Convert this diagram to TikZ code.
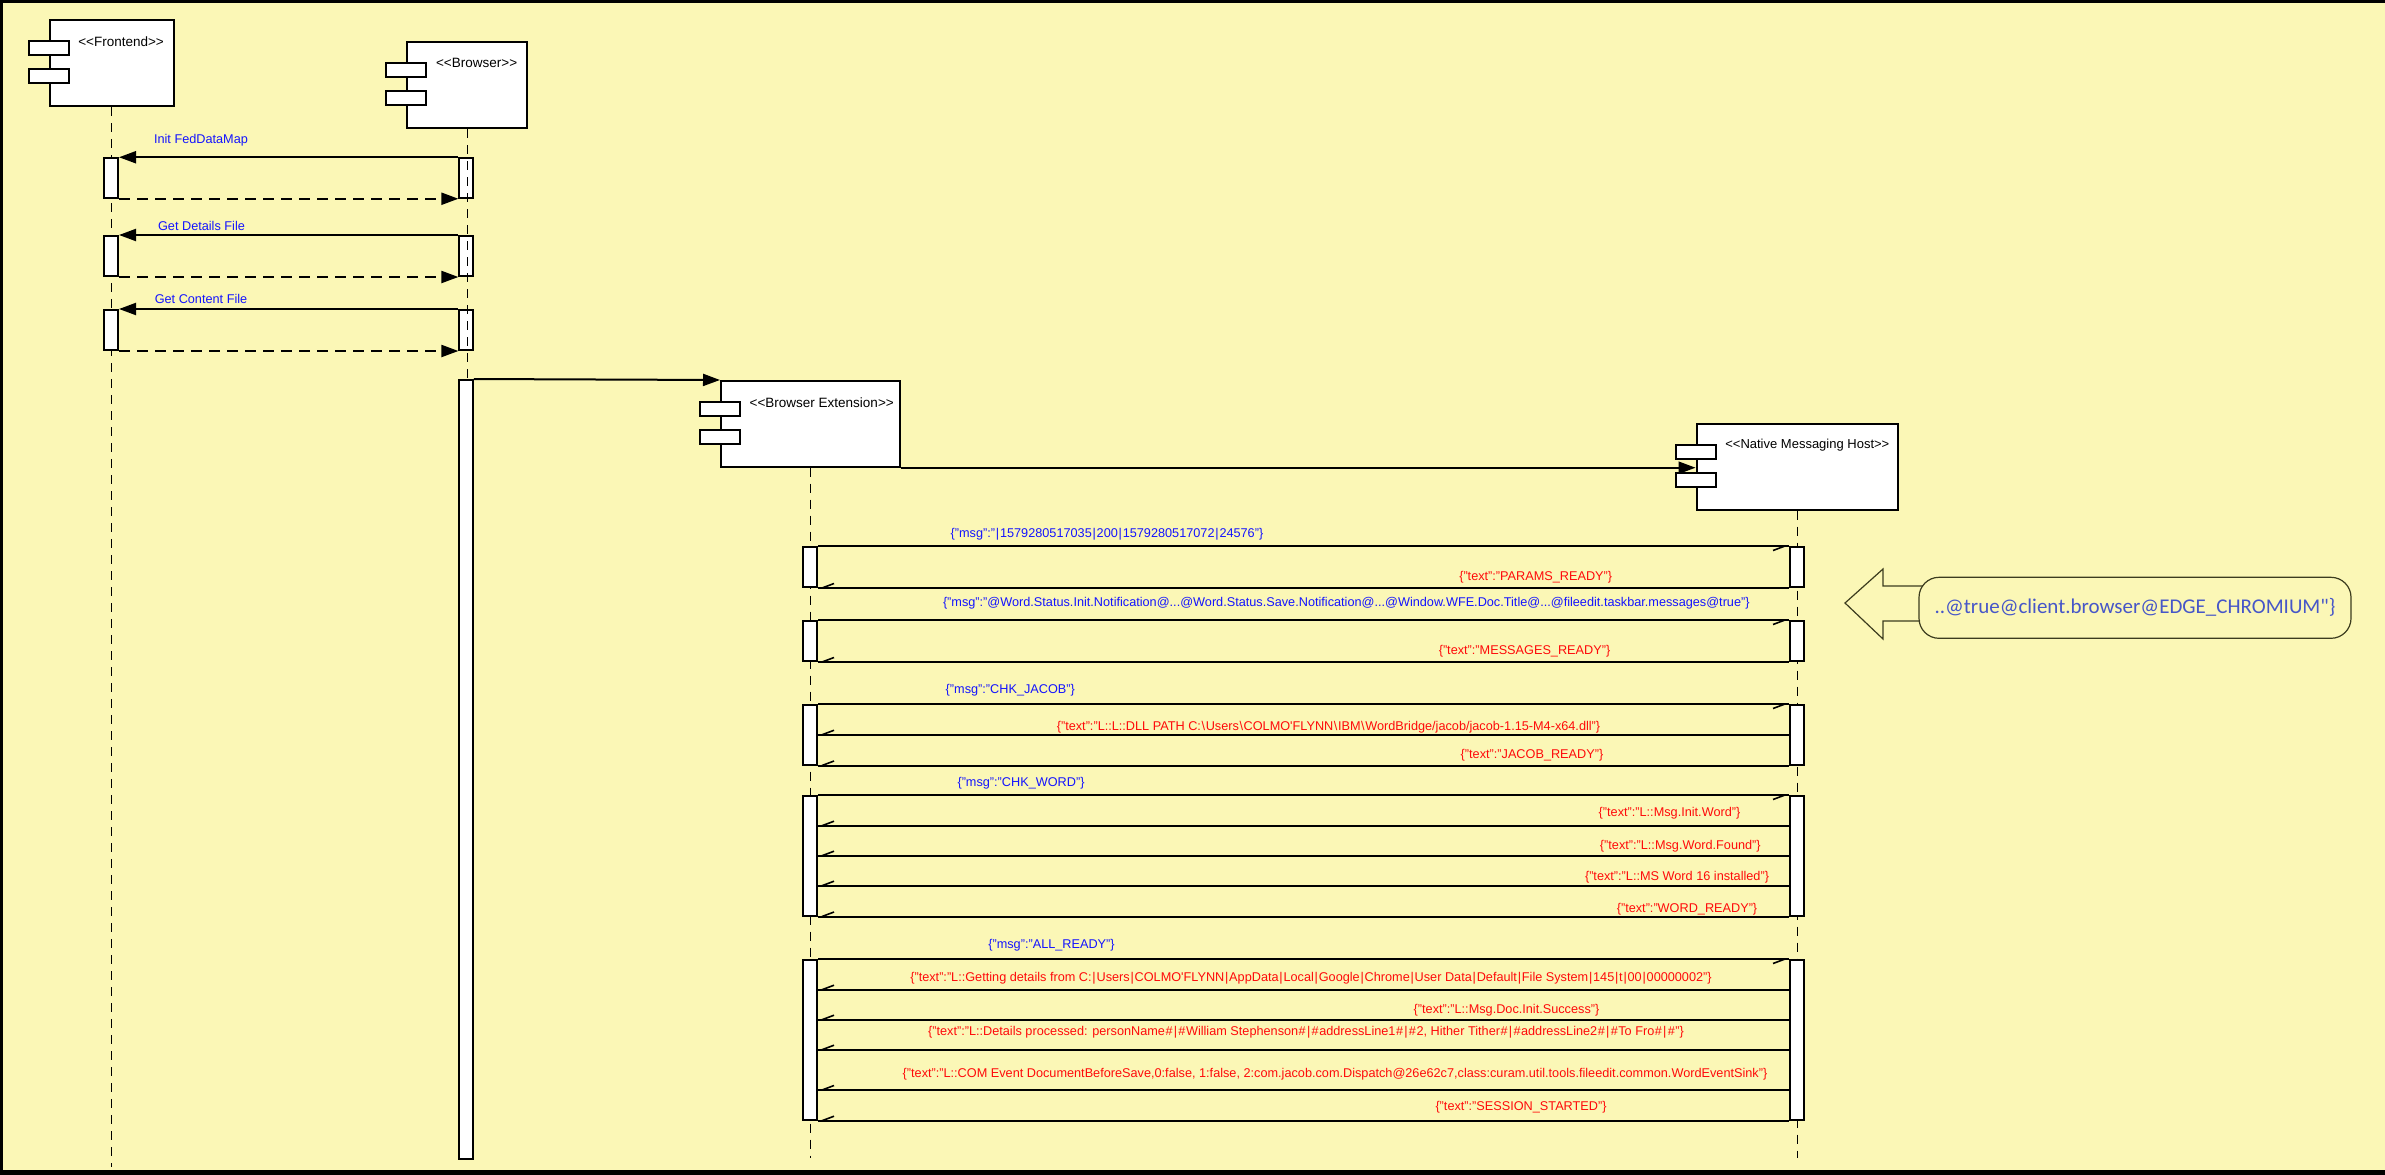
\documentclass[tikz,border=0pt]{standalone}
\usepackage{fontspec}
\setmainfont{Liberation Sans}
\newfontfamily\callfont{Carlito}
\usetikzlibrary{arrows.meta,calc,decorations.markings}

\definecolor{paper}{RGB}{251,247,182}
\definecolor{msgblue}{RGB}{20,20,255}
\definecolor{msgred}{RGB}{255,10,10}
\definecolor{noteblue}{RGB}{70,86,200}
\definecolor{noteline}{RGB}{60,60,30}

\tikzset{
  comp/.style={draw, line width=2pt, fill=white, anchor=north west, inner sep=0pt},
  port/.style={draw, line width=2pt, fill=white, minimum width=40pt, minimum height=14pt, inner sep=0pt},
  lifeline/.style={line width=1pt, dash pattern=on 9pt off 7pt},
  actbar/.style={draw, line width=2pt, fill=white, minimum width=14pt, inner sep=0pt},
  call/.style={line width=2pt, -{Triangle[length=17pt,width=12pt]}},
  reply/.style={call, dash pattern=on 11pt off 7pt},
  wire/.style={line width=2pt, postaction={decorate},
    decoration={markings, mark=at position 1 with {\draw[line width=1.6pt, solid] (-4pt,0pt) -- (-16pt,-4.5pt);}}},
  head/.style={font=\fontsize{13.5}{15}\selectfont, anchor=west, inner sep=0pt},
  lbl/.style={font=\fontsize{12.7}{14}\selectfont, anchor=base, inner sep=0pt},
  bluelbl/.style={lbl, text=msgblue},
  redlbl/.style={lbl, text=msgred},
}

% separators set with a little air around them
\newcommand{\q}{\textquotesingle}
\newcommand{\pp}{\kern0.8pt|\kern0.8pt}
\newcommand{\hh}{\kern0.5pt\#\kern0.5pt}
\newcommand{\bs}{\kern0.6pt\textbackslash\kern0.6pt}

\begin{document}
\begin{tikzpicture}[x=1pt,y=-1pt]
\useasboundingbox (0,0) rectangle (2385,1175);
\fill[paper] (0,0) rectangle (2385,1175);
\draw[line width=3pt] (1.5,1175) -- (1.5,1.5) -- (2385,1.5);
\draw[line width=5pt] (0,1172.5) -- (2385,1172.5);

% ---- component boxes ----
\node[comp, minimum width=124pt, minimum height=86pt] (fe) at (48.6,19) {};
\node[comp, minimum width=120pt, minimum height=86.3pt] (br) at (406.4,40.7) {};
\node[comp, minimum width=179pt, minimum height=85.7pt] (be) at (720,380) {};
\node[comp, minimum width=201.3pt, minimum height=85.7pt] (nmh) at (1695.6,423) {};

\foreach \c in {fe,br,be,nmh}{
  \node[port] (\c p1) at ($(\c.north west)+(0,29)$) {};
  \node[port] (\c p2) at ($(\c.north west)+(0,57)$) {};
}
\node[head] (fet) at ($(fe.north west)+(29.5,22.5)$) {<{}<Frontend>{}>};
\node[head] (brt) at ($(br.north west)+(29.5,22.5)$) {<{}<Browser>{}>};
\node[head] (bet) at ($(be.north west)+(29.5,22.5)$) {<{}<Browser Extension>{}>};
\node[head, font=\fontsize{13}{15}\selectfont] (nmht) at ($(nmh.north west)+(29.5,22.5)$) {<{}<Native Messaging Host>{}>};

% ---- lifelines ----
\coordinate (endF) at (0,1167);
\coordinate (endB) at (0,380);
\coordinate (endX) at (0,1158);
\draw[lifeline] (fe.south) -- (fe.south |- endF);
\draw[lifeline] (be.south) -- (be.south |- endX);
\draw[lifeline] (nmh.south) -- (nmh.south |- endX);

% ---- Frontend / Browser exchanges ----
\node[actbar, minimum height=39.5pt] (fa1) at (111,178) {};
\node[actbar, minimum height=40pt] (fa2) at (111,256) {};
\node[actbar, minimum height=40pt] (fa3) at (111,330) {};
\node[actbar, minimum height=39.5pt] (ba1) at (466.4,178) {};
\node[actbar, minimum height=40pt] (ba2) at (466.4,256) {};
\node[actbar, minimum height=40pt] (ba3) at (466.4,330) {};
\draw[lifeline] (br.south) -- (br.south |- endB);
\node[actbar, minimum height=779pt] (lb) at (465.8,769.5) {};

\draw[call] (ba1.north west) -- (fa1.north east);
\draw[reply] (fa1.south east) -- (ba1.south west);
\draw[call] (ba2.north west) -- (fa2.north east);
\draw[reply] (fa2.south east) -- (ba2.south west);
\draw[call] (ba3.north west) -- (fa3.north east);
\draw[reply] (fa3.south east) -- (ba3.south west);

\node[bluelbl] (l1) at (201,143.6) {Init FedDataMap};
\node[bluelbl] (l2) at (201.5,230) {Get Details File};
\node[bluelbl] (l3) at (201,303.6) {Get Content File};

\draw[call] (lb.north east) -- (be.north west);
\draw[call] (be.south east) -- (nmh.west |- be.south east);

% ---- Browser Extension / Native Messaging Host exchanges ----
\node[actbar, minimum height=40pt] (e1) at (810,567) {};
\node[actbar, minimum height=40pt] (n1) at (1797,567) {};
\node[actbar, minimum height=40pt] (e2) at (810,641) {};
\node[actbar, minimum height=40pt] (n2) at (1797,641) {};
\node[actbar, minimum height=59.5pt] (e3) at (810,734.75) {};
\node[actbar, minimum height=59.5pt] (n3) at (1797,734.75) {};
\node[actbar, minimum height=119.5pt] (e4) at (810,855.75) {};
\node[actbar, minimum height=119.5pt] (n4) at (1797,855.75) {};
\node[actbar, minimum height=159.7pt] (e5) at (810,1039.85) {};
\node[actbar, minimum height=159.7pt] (n5) at (1797,1039.85) {};

\coordinate (r4a) at (0,825.7);
\coordinate (r4b) at (0,855.7);
\coordinate (r4c) at (0,885.7);
\coordinate (r5a) at (0,989.7);
\coordinate (r5b) at (0,1019.7);
\coordinate (r5c) at (0,1049.7);
\coordinate (r5d) at (0,1090);

\draw[wire] (e1.north east) -- (n1.north west);
\draw[wire] (n1.south west) -- (e1.south east);
\draw[wire] (e2.north east) -- (n2.north west);
\draw[wire] (n2.south west) -- (e2.south east);
\draw[wire] (e3.north east) -- (n3.north west);
\draw[wire] (n3.west) -- (e3.east);
\draw[wire] (n3.south west) -- (e3.south east);
\draw[wire] (e4.north east) -- (n4.north west);
\draw[wire] (n4.west |- r4a) -- (e4.east |- r4a);
\draw[wire] (n4.west |- r4b) -- (e4.east |- r4b);
\draw[wire] (n4.west |- r4c) -- (e4.east |- r4c);
\draw[wire] (n4.south west) -- (e4.south east);
\draw[wire] (e5.north east) -- (n5.north west);
\draw[wire] (n5.west |- r5a) -- (e5.east |- r5a);
\draw[wire] (n5.west |- r5b) -- (e5.east |- r5b);
\draw[wire] (n5.west |- r5c) -- (e5.east |- r5c);
\draw[wire] (n5.west |- r5d) -- (e5.east |- r5d);
\draw[wire] (n5.south west) -- (e5.south east);

\node[bluelbl] (m1) at (1107,537) {\{"msg":"\pp 1579280517035\pp 200\pp 1579280517072\pp 24576"\}};
\node[redlbl] (t1) at (1535.7,580.3) {\{"text":"PARAMS\_READY"\}};
\node[bluelbl] (m2) at (1346.3,606) {\{"msg":"@Word.Status.Init.Notification@...@Word.Status.Save.Notification@...@Window.WFE.Doc.Title@...@fileedit.taskbar.messages@true"\}};
\node[redlbl] (t2) at (1524.5,654.3) {\{"text":"MESSAGES\_READY"\}};
\node[bluelbl] (m3) at (1010.3,693) {\{"msg":"CHK\_JACOB"\}};
\node[redlbl] (t3a) at (1328.5,730.3) {\{"text":"L::L::DLL PATH C:\bs Users\bs COLMO\q FLYNN\bs IBM\bs WordBridge/jacob/jacob-1.15-M4-x64.dll"\}};
\node[redlbl] (t3b) at (1532,758.3) {\{"text":"JACOB\_READY"\}};
\node[bluelbl] (m4) at (1021,786.3) {\{"msg":"CHK\_WORD"\}};
\node[redlbl] (t4a) at (1669.5,816.3) {\{"text":"L::Msg.Init.Word"\}};
\node[redlbl] (t4b) at (1680.3,849.3) {\{"text":"L::Msg.Word.Found"\}};
\node[redlbl] (t4c) at (1677,880) {\{"text":"L::MS Word 16 installed"\}};
\node[redlbl] (t4d) at (1687,912) {\{"text":"WORD\_READY"\}};
\node[bluelbl] (m5) at (1051.5,948) {\{"msg":"ALL\_READY"\}};
\node[redlbl] (t5a) at (1311,981) {\{"text":"L::Getting details from C:\pp Users\pp COLMO\q FLYNN\pp AppData\pp Local\pp Google\pp Chrome\pp User Data\pp Default\pp File System\pp 145\pp t\pp 00\pp 00000002"\}};
\node[redlbl] (t5b) at (1506.5,1013.6) {\{"text":"L::Msg.Doc.Init.Success"\}};
\node[redlbl] (t5c) at (1306,1035.3) {\{"text":"L::Details processed: personName\hh\pp\hh William Stephenson\hh\pp\hh addressLine1\hh\pp\hh 2, Hither Tither\hh\pp\hh addressLine2\hh\pp\hh To Fro\hh\pp\hh"\}};
\node[redlbl] (t5d) at (1335,1077.6) {\{"text":"L::COM Event DocumentBeforeSave,0:false, 1:false, 2:com.jacob.com.Dispatch@26e62c7,class:curam.util.tools.fileedit.common.WordEventSink"\}};
\node[redlbl] (t5e) at (1521,1110) {\{"text":"SESSION\_STARTED"\}};

% ---- note with pointer ----
\node[draw=noteline, line width=1.2pt, rounded corners=20pt, minimum width=432pt, minimum height=61pt,
      inner sep=0pt, text=noteblue, font=\callfont\fontsize{21}{24}\selectfont] (note) at (2135,607.8)
      {..@true@client.browser@EDGE\_CHROMIUM"\}};
\draw[noteline, line width=1.2pt, line join=miter]
  (1923,586) -- (1883,586) -- (1883,569) -- (1845,603) -- (1883,639) -- (1883,621) -- (1920,621);
\end{tikzpicture}
\end{document}
